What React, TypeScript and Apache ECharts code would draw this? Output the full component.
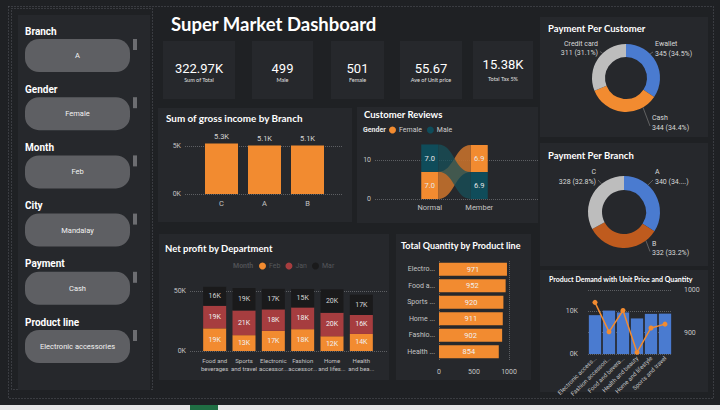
import { useEffect, useRef } from 'react';
import * as echarts from 'echarts';

// ---------------- data ----------------
const slicerTitles = ['Branch', 'Gender', 'Month', 'City', 'Payment', 'Product line'];
const slicerValues = ['A', 'Female', 'Feb', 'Mandalay', 'Cash', 'Electronic accessories'];

const kpiValues = ['322.97K', '499', '501', '55.67', '15.38K'];
const kpiLabels = ['Sum of Total', 'Male', 'Female', 'Ave of Unit price', 'Total Tax 5%'];

const branches = ['C', 'A', 'B'];
const grossIncome = [5265.18, 5057.16, 5057.03];

const memberTypes = ['Normal', 'Member'];
const femaleRating = [6.96, 6.93];
const maleRating = [7.03, 6.91];

const departments = ['Food and\nbeverages', 'Sports\nand travel', 'Electronic\naccessor...', 'Fashion\naccessor...', 'Home\nand lifes...', 'Health\nand bea...'];
const profitFeb = [18900, 13200, 16800, 18200, 12300, 14200];
const profitJan = [18800, 20600, 17900, 18100, 19600, 15800];
const profitMar = [15800, 18700, 17100, 15400, 19500, 16900];

const productShort = ['Electro...', 'Food a...', 'Sports ...', 'Home ...', 'Fashio...', 'Health ...'];
const quantityByLine = [971, 952, 920, 911, 902, 854];

const paymentNames = ['Ewallet', 'Cash', 'Credit card'];
const paymentCounts = [345, 344, 311];

const branchNames = ['A', 'B', 'C'];
const branchCounts = [340, 332, 328];

const demandLines = ['Electronic access...', 'Fashion accessori...', 'Food and bevera...', 'Health and beauty', 'Home and lifestyle', 'Sports and travel'];
const unitPriceSum = [9103.36, 10173.35, 9745.54, 8337.88, 9407.08, 9460.88];
const quantitySum = [971, 902, 952, 854, 911, 920];

// ---------------- style ----------------
const BG = '#1f2124';
const PANEL = '#26282c';
const ORANGE = '#F28B30';
const BLUE = '#4A7BD0';
const TEAL = '#0F4C5A';
const JAN_RED = '#A63D3F';
const MAR_DARK = '#1a1a1b';
const BROWN = '#BF5B1E';
const LIGHT_GREY = '#BDBDBD';
const AXIS_TXT = '#c4c4c4';
const GRIDLINE = '#5d5f63';
const NONE = 'rgba(0,0,0,0)';
const SANS = 'Lato, "Open Sans", sans-serif';
const DIN = 'Roboto, "DejaVu Sans", sans-serif';

function buildOption() {
  const graphics: any[] = [];
  const R = (x: number, y: number, w: number, h: number, fill: string, r = 0) =>
    graphics.push({ type: 'rect', z: -1, silent: true, shape: { x, y, width: w, height: h, r }, style: { fill } });
  const dotted = (x: number, y: number, w: number, h: number) =>
    graphics.push({ type: 'rect', z: -1, silent: true, shape: { x, y, width: w, height: h }, style: { fill: 'none', stroke: '#56595e', lineWidth: 1, lineDash: [1, 2] } });
  const T = (x: number, y: number, text: string, font: string, fill: string, align = 'left') =>
    graphics.push({ type: 'text', z: -1, silent: true, x, y, style: { text, font, fill, align, textAlign: align, verticalAlign: 'middle', textVerticalAlign: 'middle' } });

  // frame
  R(0, 405, 720, 5, '#e6e6e6');
  R(190, 405, 28, 5, '#1f6e43');
  dotted(8.5, 6.5, 705, 392);
  dotted(11.5, 8.5, 141, 381);

  // sidebar
  R(18, 15, 132, 375, PANEL);
  slicerTitles.forEach((t, i) => {
    const y0 = 31 + i * 58.2;
    T(25, y0, t, `bold 10px ${DIN}`, '#ffffff');
    R(25, y0 + 8, 105, 33, '#5e5f63', 14);
    T(77.5, y0 + 24.5, slicerValues[i], `7.5px ${DIN}`, '#f2f2f2', 'center');
    R(133, y0 + 8, 4, 11, '#6c6d71');
  });

  // title
  T(171, 24, 'Super Market Dashboard', `bold 18.5px ${SANS}`, '#ffffff');

  // KPI cards
  const cardX = [[163, 235], [252, 313], [331, 384], [400, 462], [473, 533]];
  cardX.forEach(([a, b], i) => {
    R(a, 41, b - a, 58, PANEL);
    const last = i === cardX.length - 1;
    T((a + b) / 2, last ? 64 : 68, kpiValues[i], `13px ${DIN}`, '#ffffff', 'center');
    T((a + b) / 2, last ? 79 : 80, kpiLabels[i], `5.5px ${SANS}`, '#e0e0e0', 'center');
  });

  // panels
  R(158, 108, 194, 114, PANEL);
  R(357, 107, 181, 116, PANEL);
  R(159, 234, 230, 146, PANEL);
  R(396, 234, 135, 146, PANEL);
  R(540, 17, 168, 120, PANEL);
  R(540, 143, 168, 123, PANEL);
  R(540, 270, 168, 122, PANEL);

  const titleFont = `bold 9.5px ${SANS}`;
  T(166, 118, 'Sum of gross income by Branch', `bold 9.9px ${SANS}`, '#ffffff');
  T(364, 114, 'Customer Reviews', titleFont, '#ffffff');
  T(363, 130, 'Gender', `bold 7px ${DIN}`, '#e8e8e8');
  T(165, 248, 'Net profit by Department', titleFont, '#ffffff');
  T(233, 266, 'Month', `bold 7px ${DIN}`, '#4f5054');
  T(401, 245, 'Total Quantity by Product line', `bold 9px ${SANS}`, '#ffffff');
  T(548, 28, 'Payment Per Customer', titleFont, '#ffffff');
  T(548, 155, 'Payment Per Branch', titleFont, '#ffffff');
  T(549, 279, 'Product Demand with Unit Price and Quantity', `bold 7px ${SANS}`, '#ffffff');

  // ---------- axes ----------
  const grid = (x1: number, y1: number, x2: number, y2: number) => ({
    left: x1, top: y1, right: 720 - x2, bottom: 410 - y2, containLabel: false, outerBoundsMode: 'none',
  });
  const grids = [
    grid(185, 146, 342, 194), // 0 gross backdrop
    grid(200, 146, 329, 194), // 1 gross bars
    grid(375, 121, 538, 199), // 2 reviews backdrop
    grid(405, 121, 504, 199), // 3 reviews bars
    grid(190, 291, 388, 351), // 4 net backdrop
    grid(200, 291, 376, 351), // 5 net bars
    grid(439, 261, 509, 360), // 6 quantity
    grid(588, 290, 672, 354), // 7 demand
  ];
  const lbl = (extra: any = {}) => ({ color: AXIS_TXT, fontSize: 7, fontFamily: DIN, ...extra });
  const split = (color: any) => ({ show: true, lineStyle: { color, type: 'dotted', width: 1 } });
  const noLine = { axisLine: { show: false }, axisTick: { show: false } };
  const hiddenX = (gi: number) => ({ gridIndex: gi, type: 'value', show: false, min: 0, max: 1 });
  const catX = (gi: number, data: string[], extra: any = {}) => ({
    gridIndex: gi, type: 'category', data, ...noLine, splitLine: { show: false },
    axisLabel: lbl({ margin: 5, interval: 0, ...extra }),
  });

  const xAxis = [
    hiddenX(0),
    catX(1, branches, { fontSize: 7.5 }),
    hiddenX(2),
    catX(3, memberTypes, { margin: 4, fontSize: 7.5 }),
    hiddenX(4),
    catX(5, departments, { lineHeight: 7.5, fontSize: 6, margin: 6 }),
    {
      gridIndex: 6, type: 'value', min: 0, max: 1000, interval: 500, ...noLine,
      axisLabel: lbl({ margin: 8, formatter: (v: number) => String(v) }), splitLine: split([GRIDLINE, NONE, GRIDLINE]),
    },
    catX(7, demandLines, { rotate: 45, margin: 3, fontSize: 6 }),
  ];
  const kFmt = (v: number) => v / 1000 + 'K';
  const yAxis = [
    { gridIndex: 0, type: 'value', min: 0, max: 5000, interval: 5000, ...noLine, axisLabel: lbl({ margin: 4, formatter: kFmt }), splitLine: split(GRIDLINE) },
    { gridIndex: 1, type: 'value', min: 0, max: 5000, show: false },
    { gridIndex: 2, type: 'value', min: 0, max: 20, interval: 10, ...noLine, axisLabel: lbl({ margin: 4, formatter: (v: number) => (v === 20 ? '' : String(v)) }), splitLine: split([GRIDLINE, GRIDLINE, NONE]) },
    { gridIndex: 3, type: 'value', min: 0, max: 20, show: false },
    { gridIndex: 4, type: 'value', min: 0, max: 50000, interval: 50000, ...noLine, axisLabel: lbl({ margin: 4, formatter: kFmt }), splitLine: split(GRIDLINE) },
    { gridIndex: 5, type: 'value', min: 0, max: 50000, show: false },
    { gridIndex: 6, type: 'category', data: productShort, inverse: true, ...noLine, axisLabel: lbl({ margin: 4, fontSize: 7 }) },
    { gridIndex: 7, type: 'value', min: 0, max: 15000, interval: 5000, ...noLine, axisLabel: lbl({ margin: 10, formatter: (v: number) => (v % 10000 === 0 ? kFmt(v) : '') }), splitLine: split([GRIDLINE, NONE, GRIDLINE, NONE]) },
    { gridIndex: 7, type: 'value', position: 'right', min: 850, max: 1000, interval: 50, ...noLine, axisLabel: lbl({ margin: 12, formatter: (v: number) => (v % 100 === 0 ? String(v) : '') }), splitLine: split([NONE, GRIDLINE, NONE, GRIDLINE]) },
  ];

  // ---------- ribbon stacking ----------
  const stacks: any = { Female: { low: [], high: [] }, Male: { low: [], high: [] } };
  memberTypes.forEach((_, i) => {
    const f = femaleRating[i];
    const m = maleRating[i];
    if (f <= m) {
      stacks.Female.low[i] = 0; stacks.Female.high[i] = f;
      stacks.Male.low[i] = f; stacks.Male.high[i] = f + m;
    } else {
      stacks.Male.low[i] = 0; stacks.Male.high[i] = m;
      stacks.Female.low[i] = m; stacks.Female.high[i] = f + m;
    }
  });
  const BW = 17;
  const ribbon = (name: string, values: number[], color: string, ribbonColor: string) => {
    const { low, high } = stacks[name];
    return {
      type: 'custom', name, xAxisIndex: 3, yAxisIndex: 3, silent: true,
      itemStyle: { color },
      encode: { x: 0, y: [1, 2] },
      data: memberTypes.map((_, i) => [i, low[i], high[i]]),
      renderItem: (params: any, api: any) => {
        const i = params.dataIndex;
        const [cx, yLow] = api.coord([i, low[i]]);
        const [, yHigh] = api.coord([i, high[i]]);
        const children: any[] = [];
        if (i < memberTypes.length - 1) {
          const [nx, nLow] = api.coord([i + 1, low[i + 1]]);
          const [, nHigh] = api.coord([i + 1, high[i + 1]]);
          const x1 = cx + BW / 2;
          const x2 = nx - BW / 2;
          const xm = (x1 + x2) / 2;
          const d = `M${x1} ${yHigh} C${xm} ${yHigh} ${xm} ${nHigh} ${x2} ${nHigh} L${x2} ${nLow} C${xm} ${nLow} ${xm} ${yLow} ${x1} ${yLow} Z`;
          children.push({ type: 'path', shape: { pathData: d }, style: { fill: ribbonColor } });
        }
        children.push({ type: 'rect', shape: { x: cx - BW / 2, y: yHigh, width: BW, height: yLow - yHigh }, style: { fill: color } });
        children.push({
          type: 'text',
          style: {
            text: values[i].toFixed(1), x: cx, y: (yHigh + yLow) / 2, fill: '#e6e6e6', font: `7.5px ${DIN}`,
            align: 'center', textAlign: 'center', verticalAlign: 'middle', textVerticalAlign: 'middle',
          },
        });
        return { type: 'group', children };
      },
    };
  };

  // ---------- pie label layout ----------
  const pieLayout = (spots: any[], c: number[], r: number) => (p: any) => {
    const s = spots[p.dataIndex];
    const dx = s.x - c[0];
    const dy = s.y - c[1];
    const len = Math.sqrt(dx * dx + dy * dy);
    const arc = [c[0] + (dx / len) * r, c[1] + (dy / len) * r];
    const w = p.labelRect ? p.labelRect.width : 30;
    let endX = s.x - 2;
    if (s.align === 'right') endX = s.x + 2;
    if (s.align === 'center') endX = s.x + w / 2 + 2;
    return { x: s.x, y: s.y, align: s.align, verticalAlign: 'middle', labelLinePoints: [arc, [endX, s.y + 3], [endX, s.y + 3]] };
  };
  const pieLabel = {
    show: true, color: '#d8d8d8', fontSize: 7, fontFamily: DIN, lineHeight: 9.5,
    formatter: (p: any) => `${p.name}\n${p.value} (${p.percent.toFixed(1)}%)`,
  };
  const pieLine = { show: true, length: 4, length2: 4, lineStyle: { color: '#707070', width: 0.8 } };

  const payColors = [BLUE, ORANGE, LIGHT_GREY];
  const branchColors = [BLUE, BROWN, LIGHT_GREY];
  const payCenter = [626, 78];
  const branchCenter = [624, 212];

  const inside = (fmt: (v: number) => string, color = '#f0f0f0') => ({
    show: true, position: 'inside', color, fontSize: 7, fontFamily: DIN, formatter: (p: any) => fmt(p.value),
  });
  const kRound = (v: number) => Math.round(v / 1000) + 'K';

  const series: any[] = [
    {
      type: 'bar', xAxisIndex: 1, yAxisIndex: 1, data: grossIncome, barWidth: 33, clip: false, silent: true,
      itemStyle: { color: ORANGE },
      label: { show: true, position: 'top', distance: 3, color: '#d6d6d6', fontSize: 7.5, fontFamily: DIN, formatter: (p: any) => (p.value / 1000).toFixed(1) + 'K' },
    },
    ribbon('Female', femaleRating, ORANGE, 'rgba(196,112,44,0.9)'),
    ribbon('Male', maleRating, TEAL, 'rgba(22,82,92,0.72)'),
    { type: 'bar', name: 'Feb', stack: 'm', xAxisIndex: 5, yAxisIndex: 5, data: profitFeb, barWidth: 23, clip: false, silent: true, itemStyle: { color: ORANGE }, label: inside(kRound) },
    { type: 'bar', name: 'Jan', stack: 'm', xAxisIndex: 5, yAxisIndex: 5, data: profitJan, barWidth: 23, clip: false, silent: true, itemStyle: { color: JAN_RED }, label: inside(kRound) },
    { type: 'bar', name: 'Mar', stack: 'm', xAxisIndex: 5, yAxisIndex: 5, data: profitMar, barWidth: 23, clip: false, silent: true, itemStyle: { color: MAR_DARK }, label: inside(kRound, '#d4d4d4') },
    {
      type: 'bar', xAxisIndex: 6, yAxisIndex: 6, data: quantityByLine, barWidth: 13, silent: true,
      itemStyle: { color: ORANGE }, label: { ...inside((v) => String(v)), fontSize: 7.5 },
    },
    {
      type: 'pie', center: payCenter, radius: [21, 34], startAngle: 90, clockwise: true, silent: true, avoidLabelOverlap: false,
      data: paymentNames.map((n, i) => ({ name: n, value: paymentCounts[i], itemStyle: { color: payColors[i] } })),
      label: pieLabel, labelLine: pieLine,
      labelLayout: pieLayout([
        { x: 655, y: 49, align: 'left' },
        { x: 652, y: 123, align: 'left' },
        { x: 598, y: 48.5, align: 'right' },
      ], payCenter, 34),
    },
    {
      type: 'pie', center: branchCenter, radius: [22, 36], startAngle: 90, clockwise: true, silent: true, avoidLabelOverlap: false,
      data: branchNames.map((n, i) => ({
        name: n, value: branchCounts[i], itemStyle: { color: branchColors[i] },
        ...(i === 0 ? { label: { width: 37, overflow: 'truncate', ellipsis: '...)' } } : {}),
      })),
      label: pieLabel, labelLine: pieLine,
      labelLayout: pieLayout([
        { x: 655, y: 177, align: 'left' },
        { x: 652, y: 248.5, align: 'left' },
        { x: 596, y: 177, align: 'right' },
      ], branchCenter, 36),
    },
    { type: 'bar', xAxisIndex: 7, yAxisIndex: 7, data: unitPriceSum, barCategoryGap: '12%', silent: true, itemStyle: { color: BLUE } },
    {
      type: 'line', xAxisIndex: 7, yAxisIndex: 8, data: quantitySum, silent: true, symbol: 'circle', symbolSize: 5,
      itemStyle: { color: ORANGE }, lineStyle: { color: ORANGE, width: 1.5 },
    },
  ];

  const legendBase = { icon: 'circle', itemWidth: 7, itemHeight: 7, itemGap: 5, padding: 0, selectedMode: false, orient: 'horizontal' };
  const legend = [
    { ...legendBase, data: ['Female', 'Male'], left: 389, top: 126.5, textStyle: { color: '#cfcfcf', fontSize: 7, fontFamily: DIN, padding: [0, 0, 0, -2] } },
    { ...legendBase, data: ['Feb', 'Jan', 'Mar'], left: 259, top: 262.5, textStyle: { color: '#55575b', fontSize: 7, fontFamily: DIN, padding: [0, 0, 0, -2] } },
  ];

  return {
    animation: false,
    backgroundColor: BG,
    textStyle: { fontFamily: DIN },
    grid: grids,
    xAxis,
    yAxis,
    legend,
    series,
    graphic: { elements: graphics },
  };
}

export default function App() {
  const ref = useRef<HTMLDivElement>(null);
  useEffect(() => {
    if (!ref.current) return;
    const chart = echarts.init(ref.current, null, { renderer: 'svg', width: 720, height: 410 });
    chart.setOption(buildOption() as any);
    return () => chart.dispose();
  }, []);
  return <div ref={ref} style={{ position: 'fixed', left: 0, top: 0, width: 720, height: 410 }} />;
}
